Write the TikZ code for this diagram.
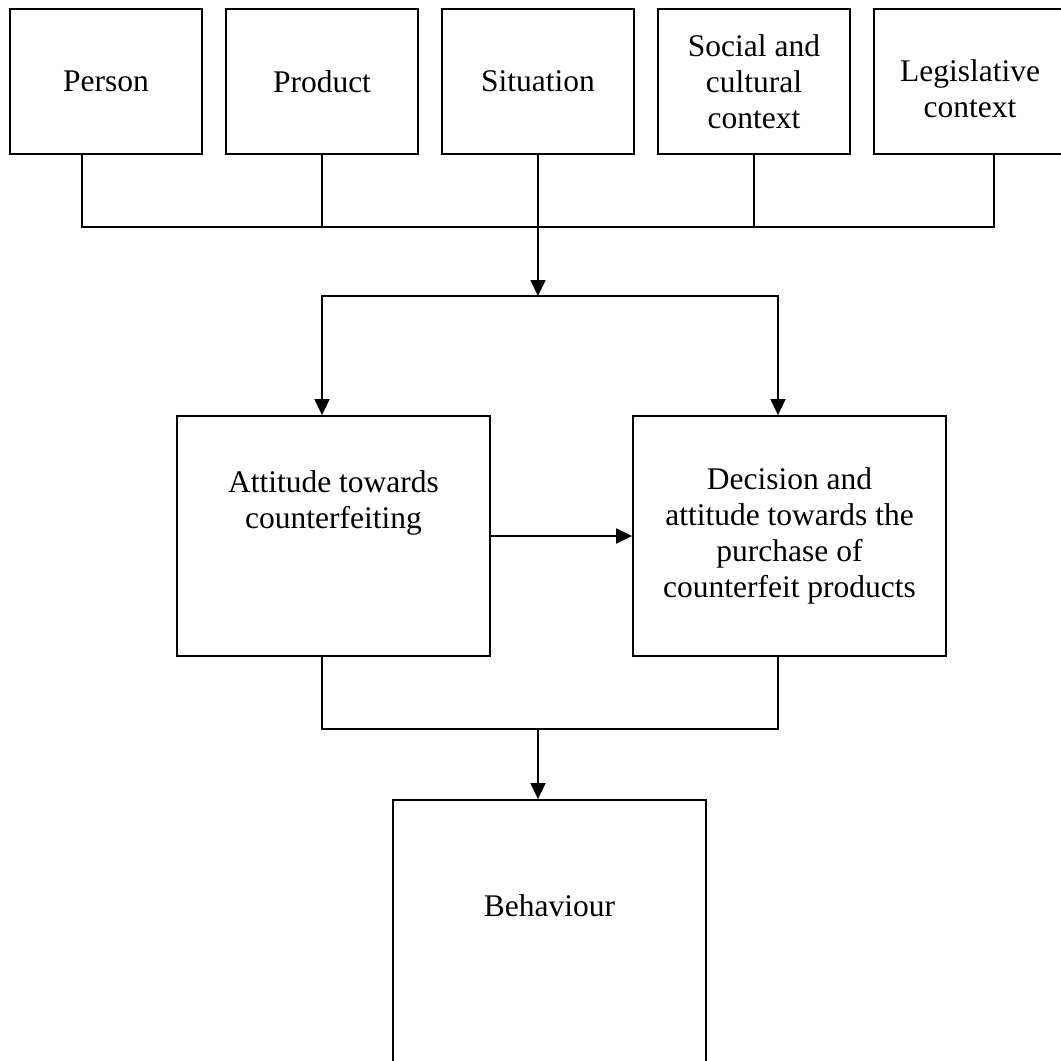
\documentclass[tikz,border=0pt]{standalone}
\usepackage{fontspec}
\setmainfont{Liberation Serif}
\usetikzlibrary{arrows.meta,positioning}

\begin{document}
\begin{tikzpicture}[
    x=1pt, y=-1pt,
    box/.style={draw, line width=1.8pt, align=center, inner sep=0pt,
        font=\fontsize{31.5}{36}\selectfont},
    topbox/.style={box, minimum width=192pt, minimum height=145pt},
    midbox/.style={box, minimum width=313pt, minimum height=240pt},
    link/.style={line width=1.8pt},
    arrow/.style={link, -{Triangle[length=16pt,width=15pt]}}
]
    \useasboundingbox (0,0) rectangle (1061,1061);

    \node[topbox] (person) at (106,81.5) {Person};
    \node[topbox] (product) at (322,81.5) {Product};
    \node[topbox] (situation) at (538,81.5) {Situation};
    \node[topbox] (social) at (754,81.5) {Social and\\cultural\\context};
    \node[topbox] (legislative) at (970,81.5) {~\\Legislative\\context};

    \node[midbox] (attitude) at (333.5,536) {Attitude towards\\counterfeiting\\~\\~};
    \node[midbox] (decision) at (789.5,536)
        {Decision and\\attitude towards the\\purchase of\\counterfeit products};
    \node[box, minimum width=313pt, minimum height=284pt] (behaviour)
        at (549.5,942) {Behaviour\\~\\~};

    \coordinate (topjoin) at (538,227);
    \coordinate (split) at (538,296);
    \coordinate (merge) at (538,729);

    \draw[link] ([xshift=-24pt]person.south) |- (topjoin) -| ([xshift=24pt]legislative.south);
    \draw[link] (product.south) -- (product.south |- topjoin);
    \draw[link] (social.south) -- (social.south |- topjoin);
    \draw[arrow] (situation.south) -- (split);
    \draw[arrow] (split) -| ([xshift=-11.5pt]attitude.north);
    \draw[arrow] (split) -| ([xshift=-11.5pt]decision.north);
    \draw[arrow] (attitude.east) -- (decision.west);
    \draw[link] ([xshift=-11.5pt]attitude.south) |- (merge) -| ([xshift=-11.5pt]decision.south);
    \draw[arrow] (merge) -- ([xshift=-11.5pt]behaviour.north);
\end{tikzpicture}
\end{document}
